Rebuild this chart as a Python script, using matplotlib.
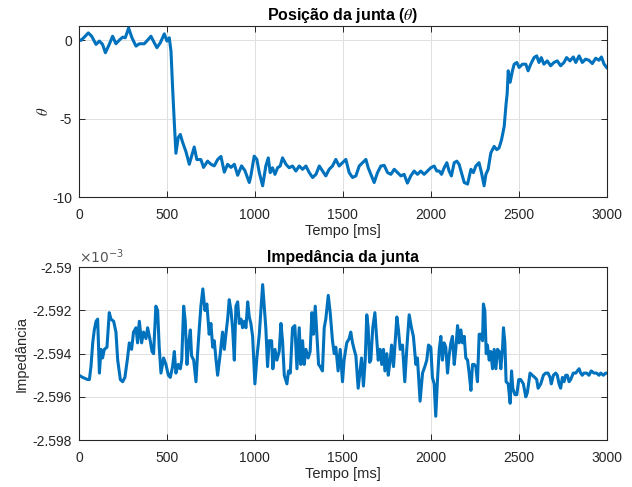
import matplotlib
matplotlib.use("Agg")
import matplotlib.pyplot as plt
from matplotlib.ticker import FormatStrFormatter

# ── Posição da junta (theta) ───────────────────────────────────────────────────
tempo_pos = [
    0, 11, 30, 53, 72, 97, 116, 134, 150, 172, 191, 210, 229, 248, 263, 282,
    301, 324, 343, 371, 390, 409, 428, 443, 462, 485, 500, 513, 523, 532, 542,
    551, 564, 576, 589, 608, 627, 640, 655, 670, 693, 708, 731, 750, 769, 788,
    807, 826, 845, 864, 883, 902, 924, 943, 968, 977, 996, 1011, 1025, 1044,
    1062, 1076, 1087, 1100, 1114, 1129, 1144, 1157, 1177, 1195, 1214, 1233,
    1252, 1271, 1290, 1309, 1328, 1347, 1366, 1385, 1403, 1422, 1441, 1460,
    1479, 1498, 1517, 1536, 1555, 1574, 1593, 1612, 1631, 1644, 1659, 1678,
    1697, 1716, 1735, 1754, 1773, 1792, 1811, 1830, 1848, 1867, 1886, 1905,
    1924, 1943, 1962, 1981, 2000, 2019, 2034, 2048, 2061, 2076, 2091, 2104,
    2117, 2133, 2148, 2161, 2174, 2190, 2209, 2228, 2242, 2256, 2274, 2288,
    2303, 2313, 2326, 2341, 2360, 2375, 2388, 2402, 2417, 2428, 2434, 2440,
    2451, 2464, 2474, 2489, 2502, 2521, 2540, 2553, 2568, 2587, 2602, 2615,
    2628, 2643, 2662, 2681, 2700, 2719, 2738, 2757, 2772, 2791, 2810, 2824,
    2843, 2861, 2880, 2899, 2918, 2937, 2956, 2970, 2985, 3000,
]
theta = [
    0.04, -0.02, 0.19, 0.46, 0.25, -0.27, -0.06, -0.27, -0.80, -0.27, 0.25,
    -0.23, 0.00, 0.19, 0.15, 0.77, 0.15, -0.38, -0.23, -0.23, 0.00, 0.25,
    -0.17, -0.48, -0.17, 0.40, -0.06, 0.15, -0.70, -3.00, -5.30, -7.20, -6.20,
    -6.00, -6.50, -7.10, -7.90, -7.40, -6.80, -7.60, -7.60, -8.10, -7.70,
    -7.90, -8.00, -7.60, -7.40, -8.40, -7.90, -8.10, -7.90, -8.60, -8.00,
    -8.30, -9.06, -8.64, -7.38, -7.59, -8.43, -9.27, -8.01, -7.49, -8.43,
    -8.12, -8.54, -8.12, -8.01, -7.49, -7.91, -8.12, -8.01, -8.33, -8.01,
    -8.22, -8.01, -8.43, -8.74, -8.54, -8.01, -8.33, -8.64, -8.22, -8.01,
    -7.59, -8.01, -7.80, -7.59, -8.43, -8.74, -8.64, -8.01, -7.80, -7.59,
    -8.12, -8.54, -9.06, -8.43, -8.01, -7.97, -8.43, -8.54, -8.22, -8.43,
    -8.64, -8.54, -9.10, -8.64, -8.33, -8.54, -8.33, -8.54, -8.33, -8.12,
    -8.01, -8.33, -8.33, -8.54, -8.12, -7.80, -8.33, -8.64, -7.80, -7.70,
    -7.91, -8.43, -9.06, -9.16, -8.22, -8.43, -8.01, -7.80, -8.43, -9.27,
    -8.54, -8.22, -7.18, -6.76, -6.97, -6.86, -6.34, -5.50, -4.04, -3.41,
    -1.95, -2.68, -1.95, -1.53, -1.42, -1.74, -1.53, -1.53, -1.95, -1.53,
    -1.11, -1.00, -1.42, -1.11, -1.53, -1.32, -1.63, -1.42, -1.32, -1.63,
    -1.42, -1.11, -1.32, -1.07, -1.42, -1.00, -1.42, -1.21, -1.28, -1.49,
    -1.15, -1.28, -1.07, -1.53, -1.74,
]

# ── Impedância da junta (x 1e-3) ───────────────────────────────────────────────
tempo_imp = [
    0, 21, 49, 59, 68, 78, 87, 97, 106, 116, 125, 134, 144, 159, 172, 182,
    197, 210, 220, 235, 248, 261, 276, 286, 299, 310, 324, 333, 343, 356, 367,
    381, 390, 405, 415, 424, 437, 447, 456, 466, 481, 494, 508, 519, 532, 542,
    551, 564, 576, 584, 595, 604, 614, 621, 633, 640, 652, 665, 674, 684, 693,
    704, 716, 727, 740, 750, 760, 769, 778, 788, 803, 816, 826, 835, 845, 854,
    864, 873, 883, 892, 902, 911, 921, 930, 940, 949, 959, 968, 977, 987, 1000,
    1011, 1025, 1044, 1053, 1062, 1072, 1081, 1095, 1102, 1114, 1125, 1138,
    1148, 1157, 1167, 1182, 1191, 1201, 1214, 1227, 1239, 1252, 1261, 1271,
    1280, 1290, 1303, 1314, 1324, 1333, 1343, 1352, 1362, 1371, 1384, 1394,
    1403, 1417, 1428, 1441, 1451, 1460, 1473, 1485, 1498, 1507, 1522, 1536,
    1545, 1555, 1564, 1574, 1587, 1598, 1606, 1617, 1627, 1636, 1644, 1652,
    1659, 1670, 1682, 1693, 1701, 1712, 1721, 1731, 1739, 1750, 1758, 1769,
    1777, 1788, 1796, 1807, 1816, 1826, 1839, 1852, 1864, 1877, 1890, 1901,
    1915, 1924, 1939, 1953, 1966, 1977, 1987, 2000, 2009, 2019, 2028, 2038,
    2048, 2057, 2066, 2076, 2085, 2095, 2104, 2114, 2123, 2133, 2142, 2152,
    2161, 2171, 2180, 2190, 2199, 2209, 2218, 2228, 2237, 2247, 2256, 2265,
    2275, 2284, 2294, 2299, 2307, 2315, 2322, 2332, 2341, 2351, 2360, 2370,
    2379, 2389, 2398, 2408, 2413, 2421, 2428, 2440, 2451, 2459, 2466, 2478,
    2489, 2500, 2511, 2526, 2540, 2549, 2564, 2577, 2591, 2602, 2610, 2625,
    2640, 2653, 2666, 2678, 2685, 2697, 2710, 2719, 2729, 2738, 2748, 2757,
    2767, 2776, 2786, 2795, 2810, 2824, 2833, 2843, 2852, 2861, 2871, 2886,
    2899, 2912, 2928, 2943, 2956, 2966, 2981, 2994, 3000,
]
impedancia = [
    -2.5950, -2.5951, -2.5952, -2.5952, -2.5946, -2.5935, -2.5929, -2.5925,
    -2.5924, -2.5949, -2.5938, -2.5942, -2.5938, -2.5937, -2.5921, -2.5924,
    -2.5925, -2.5930, -2.5943, -2.5952, -2.5953, -2.5951, -2.5942, -2.5935,
    -2.5938, -2.5930, -2.5928, -2.5935, -2.5925, -2.5935, -2.5930, -2.5933,
    -2.5928, -2.5934, -2.5939, -2.5940, -2.5918, -2.5920, -2.5937, -2.5949,
    -2.5942, -2.5945, -2.5950, -2.5951, -2.5946, -2.5939, -2.5949, -2.5945,
    -2.5947, -2.5943, -2.5918, -2.5925, -2.5945, -2.5937, -2.5929, -2.5941,
    -2.5943, -2.5953, -2.5940, -2.5928, -2.5918, -2.5910, -2.5920, -2.5917,
    -2.5931, -2.5926, -2.5937, -2.5934, -2.5942, -2.5950, -2.5940, -2.5930,
    -2.5938, -2.5931, -2.5924, -2.5915, -2.5920, -2.5928, -2.5943, -2.5918,
    -2.5916, -2.5926, -2.5924, -2.5928, -2.5925, -2.5928, -2.5916, -2.5923,
    -2.5926, -2.5932, -2.5954, -2.5942, -2.5931, -2.5908, -2.5918, -2.5928,
    -2.5946, -2.5934, -2.5934, -2.5947, -2.5938, -2.5943, -2.5939, -2.5926,
    -2.5934, -2.5950, -2.5954, -2.5948, -2.5949, -2.5928, -2.5927, -2.5947,
    -2.5928, -2.5945, -2.5934, -2.5945, -2.5938, -2.5942, -2.5939, -2.5921,
    -2.5931, -2.5918, -2.5931, -2.5945, -2.5946, -2.5948, -2.5928, -2.5924,
    -2.5913, -2.5921, -2.5934, -2.5940, -2.5937, -2.5948, -2.5938, -2.5953,
    -2.5943, -2.5935, -2.5933, -2.5930, -2.5935, -2.5938, -2.5941, -2.5956,
    -2.5948, -2.5942, -2.5955, -2.5943, -2.5922, -2.5928, -2.5944, -2.5943,
    -2.5928, -2.5921, -2.5934, -2.5943, -2.5938, -2.5945, -2.5938, -2.5948,
    -2.5940, -2.5950, -2.5943, -2.5936, -2.5946, -2.5936, -2.5923, -2.5929,
    -2.5938, -2.5936, -2.5953, -2.5937, -2.5922, -2.5928, -2.5932, -2.5945,
    -2.5942, -2.5962, -2.5949, -2.5946, -2.5943, -2.5936, -2.5937, -2.5951,
    -2.5954, -2.5969, -2.5952, -2.5938, -2.5932, -2.5943, -2.5935, -2.5937,
    -2.5949, -2.5941, -2.5935, -2.5932, -2.5945, -2.5938, -2.5927, -2.5935,
    -2.5929, -2.5935, -2.5932, -2.5942, -2.5943, -2.5949, -2.5957, -2.5945,
    -2.5945, -2.5946, -2.5953, -2.5931, -2.5931, -2.5934, -2.5917, -2.5920,
    -2.5940, -2.5936, -2.5943, -2.5939, -2.5947, -2.5938, -2.5947, -2.5938,
    -2.5939, -2.5947, -2.5937, -2.5928, -2.5935, -2.5953, -2.5954, -2.5963,
    -2.5948, -2.5956, -2.5959, -2.5959, -2.5952, -2.5952, -2.5954, -2.5960,
    -2.5958, -2.5949, -2.5950, -2.5951, -2.5952, -2.5956, -2.5954, -2.5950,
    -2.5949, -2.5949, -2.5951, -2.5954, -2.5950, -2.5949, -2.5950, -2.5954,
    -2.5956, -2.5951, -2.5953, -2.5950, -2.5950, -2.5953, -2.5952, -2.5949,
    -2.5949, -2.5948, -2.5947, -2.5949, -2.5950, -2.5949, -2.5949, -2.5950,
    -2.5948, -2.5949, -2.5949, -2.5950, -2.5949, -2.5950, -2.5949, -2.5949,
]

xticks = [0, 500, 1000, 1500, 2000, 2500, 3000]
yticks_pos = [-10, -5, 0]
yticks_imp = [-2.598, -2.596, -2.594, -2.592, -2.590]

LINE = "#0072BD"
DARK = "#262626"

plt.rcParams["font.family"] = ["Liberation Sans", "DejaVu Sans"]
plt.rcParams["mathtext.fontset"] = "stix"
plt.rcParams["axes.unicode_minus"] = False


def matlab_style(ax):
    for s in ax.spines.values():
        s.set_color(DARK)
        s.set_linewidth(0.8)
    ax.grid(True, color="#E0E0E0", linewidth=0.7)
    ax.set_axisbelow(True)
    ax.tick_params(direction="in", top=True, right=True, length=4,
                   width=0.7, colors=DARK, labelsize=10)
    ax.tick_params(axis="x", pad=8)
    ax.tick_params(axis="y", pad=5)
    ax.set_xlim(0, 3000)
    ax.set_xticks(xticks)


fig = plt.figure(figsize=(6.32, 4.87), dpi=100)
ax1 = fig.add_axes([0.125, 0.5949, 0.835, 0.3517])
ax2 = fig.add_axes([0.125, 0.0965, 0.835, 0.3546])

# top panel
ax1.plot(tempo_pos, theta, color=LINE, linewidth=2.2)
matlab_style(ax1)
ax1.set_ylim(-10, 0.9)
ax1.set_yticks(yticks_pos)
ax1.set_title(r"Posição da junta ($\theta$)", fontsize=11.5,
              fontweight="bold", color="black", pad=4)
ax1.set_xlabel("Tempo [ms]", fontsize=10.5, color=DARK, labelpad=1)
ax1.set_ylabel(r"$\theta$", fontsize=10.5, color=DARK, labelpad=1)

# bottom panel
ax2.plot(tempo_imp, impedancia, color=LINE, linewidth=2.2)
matlab_style(ax2)
ax2.set_ylim(-2.598, -2.590)
ax2.set_yticks(yticks_imp)
ax2.yaxis.set_major_formatter(FormatStrFormatter("%g"))
ax2.set_title("Impedância da junta", fontsize=11.3, fontweight="bold",
              color="black", pad=4)
ax2.set_xlabel("Tempo [ms]", fontsize=10.5, color=DARK, labelpad=1)
ax2.set_ylabel("Impedância", fontsize=10.5, color=DARK, labelpad=3)
ax2.text(0.0, 1.01, r"$\times10^{-3}$", transform=ax2.transAxes,
         ha="left", va="bottom", fontsize=10, color="#555555",
         math_fontfamily="dejavusans")

fig.savefig("out.png", dpi=100)
